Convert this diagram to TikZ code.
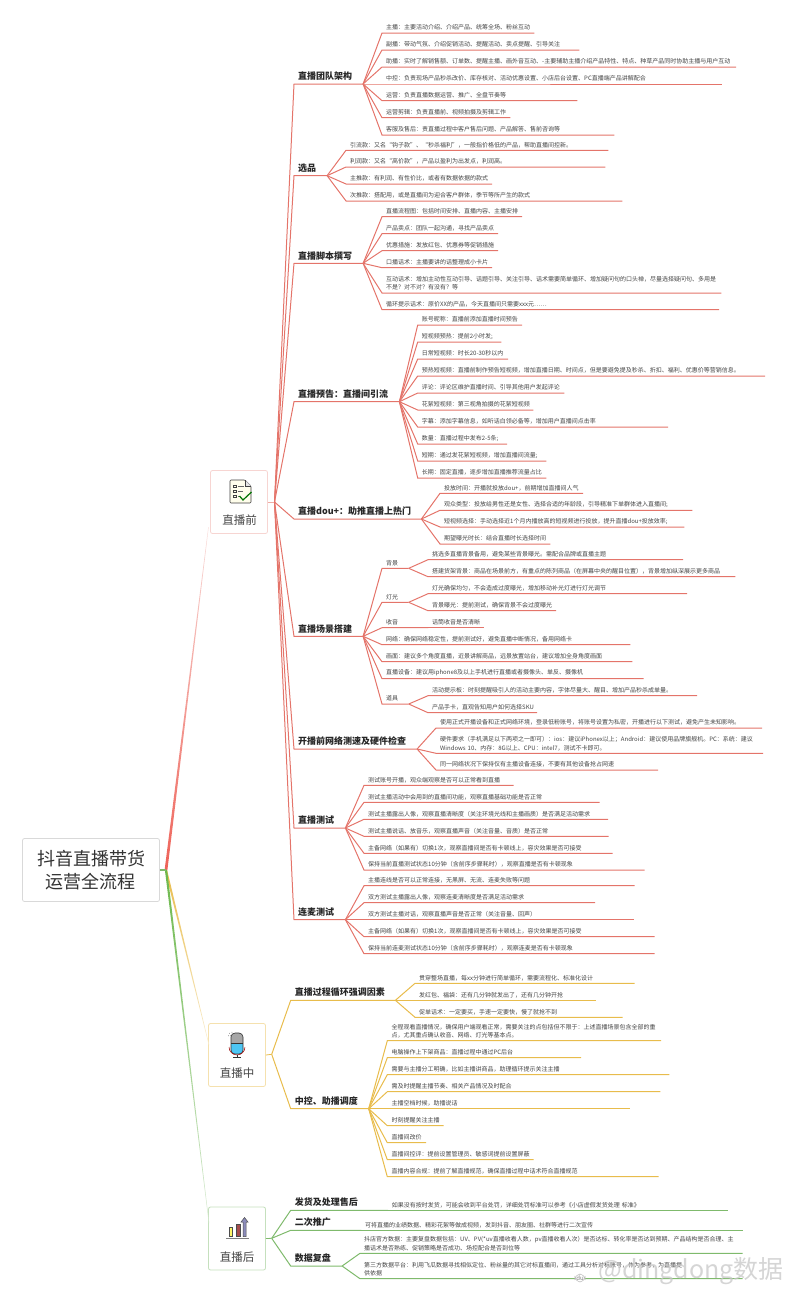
\documentclass[tikz,border=0pt]{standalone}
\usepackage{fontspec}
\setmainfont{Noto Sans CJK SC}
\definecolor{redline}{HTML}{E4746A}
\definecolor{redroot}{HTML}{EE6258}
\definecolor{yelline}{HTML}{E8BC4C}
\definecolor{greline}{HTML}{7FBA6C}
\definecolor{greroot}{HTML}{6CB84C}
\definecolor{ink}{HTML}{444444}
\tikzstyle{leaf}=[anchor=south west, inner xsep=4pt, inner ysep=2.4pt, text width=#1pt-8pt, align=left, text=ink, font=\fontsize{6}{8.3}\selectfont]
\tikzstyle{head}=[anchor=south west, inner xsep=4pt, inner ysep=3.2pt, text width=#1pt-8pt, align=left, text=black!85, font=\fontsize{9}{11}\selectfont\bfseries]
\tikzstyle{stage}=[draw=#1, rounded corners=2pt, line width=.8pt, minimum width=57pt, minimum height=63pt, fill=white]
\tikzstyle{stagelabel}=[text=ink, font=\fontsize{11.5}{13}\selectfont]
\tikzstyle{redpath}=[draw=redline, line width=1pt]
\tikzstyle{yelpath}=[draw=yelline, line width=1pt]
\tikzstyle{grepath}=[draw=greline, line width=1pt]

\begin{document}
\begin{tikzpicture}[x=1pt, y=-1pt]
	\useasboundingbox (0, 0) rectangle (800, 1301);
	\begin{scope}
		\coordinate (r0) at (166, 870);
		\coordinate (e1) at (208.5, 527);
		\coordinate (e2) at (209, 1045);
		\coordinate (e3) at (209, 1223);
		\coordinate (q1) at (274.5, 502);
		\coordinate (q2) at (271.7, 1054.3);
		\coordinate (q3) at (271.7, 1238.3);

		\node (root) at (91, 870)[draw=black!15, rounded corners=2pt, line width=.8pt, minimum width=137pt, minimum height=63pt, align=center, text=black!80, font=\fontsize{18}{23.5}\selectfont] {抖音直播带货\\运营全流程};
		\node (b1) at (239, 502)[stage=redline!30] {};
		\node (b2) at (237, 1055)[stage=yelline!45] {};
		\node (b3) at (237, 1238.5)[stage=greline!45] {};
		\node (l1) at (239.5, 520.5)[stagelabel] {直播前};
		\node (l2) at (237, 1073)[stagelabel] {直播中};
		\node (l3) at (237, 1257)[stagelabel] {直播后};

		\node (h1) at (294, 84)[head=68.7] {直播团队架构};
		\node (a1) at (382, 33)[leaf=152] {主播：主要活动介绍、介绍产品、统筹全场、粉丝互动};
		\node (a2) at (382, 50)[leaf=197] {副播：带动气氛、介绍促销活动、提醒活动、卖点提醒、引导关注};
		\node (a3) at (382, 67)[leaf=353.7] {助播：实时了解销售额、订单数、提醒主播、画外音互动、-主要辅助主播介绍产品特性、特点、种草产品同时协助主播与用户互动};
		\node (a4) at (382, 84)[leaf=340] {中控：负责现场产品秒杀改价、库存核对、活动优惠设置、小店后台设置、PC直播端产品讲解配合};
		\node (a5) at (382, 100.7)[leaf=195] {运营：负责直播数据运营、推广、全盘节奏等};
		\node (a6) at (382, 117.7)[leaf=128] {运营剪辑：负责直播前、视频拍摄及剪辑工作};
		\node (a7) at (382, 135)[leaf=232] {客服及售后：责直播过程中客户售后问题、产品解答、售前咨询等};

		\node (h2) at (294, 175.7)[head=32.7] {选品};
		\node (c1) at (346, 150.3)[leaf=262] {引流款：又名“钩子款”、“秒杀福利”，一般指价格低的产品，帮助直播间控新。};
		\node (c2) at (346, 167)[leaf=259] {利润款：又名“高价款”，产品以盈利为出发点，利润高。};
		\node (c3) at (346, 184)[leaf=145.7] {主推款：有利润、有性价比，或者有数据依据的款式};
		\node (c4) at (346, 201)[leaf=276] {次推款：搭配用，或是直播间为迎合客户群体，季节等所产生的款式};

		\node (h3) at (294, 263.3)[head=68.7] {直播脚本撰写};
		\node (d1) at (382, 216.7)[leaf=139.7] {直播流程图：包括时间安排、直播内容、主播安排};
		\node (d2) at (382, 233.7)[leaf=115.7] {产品卖点：团队一起沟通，寻找产品卖点};
		\node (d3) at (382, 250.7)[leaf=115.7] {优惠措施：发放红包、优惠券等促销措施};
		\node (d4) at (382, 267.7)[leaf=109.7] {口播话术：主播要讲的话整理成小卡片};
		\node (d5) at (382, 293)[leaf=339] {互动话术：增加主动性互动引导、话题引导、关注引导、话术需要简单循环、增加疑问句的口头禅，尽量选择疑问句、多用是\\不是？对不对？有没有？等};
		\node (d6) at (382, 309.7)[leaf=336.7] {循环提示话术：原价XX的产品，今天直播间只需要xxx元……};

		\node (h4) at (294, 401.7)[head=105] {直播预告：直播间引流};
		\node (e01) at (417.7, 325)[leaf=104] {账号昵称：直播前添加直播时间预告};
		\node (e02) at (417.7, 342)[leaf=83.3] {短视频预热：提前2小时发;};
		\node (e03) at (417.7, 359)[leaf=90] {日常短视频：时长20-30秒以内};
		\node (e04) at (417.7, 376)[leaf=347] {预热短视频：直播前制作预告短视频，增加直播日期、时间点，但是要避免提及秒杀、折扣、福利、优惠价等营销信息。};
		\node (e05) at (417.7, 393)[leaf=146.3] {评论：评论区维护直播时间、引导其他用户发起评论};
		\node (e06) at (417.7, 410)[leaf=115.3] {花絮短视频：第三视角拍摄的花絮短视频};
		\node (e07) at (417.7, 427)[leaf=250] {字幕：添加字幕信息，如听话白领必备等，增加用户直播间点击率};
		\node (e08) at (417.7, 444)[leaf=89] {数量：直播过程中发布2-5条;};
		\node (e09) at (417.7, 461)[leaf=128.3] {短期：通过发花絮短视频，增加直播间流量;};
		\node (e10) at (417.7, 478)[leaf=128.3] {长期：固定直播，逐步增加直播推荐流量占比};

		\node (h5) at (294, 519)[head=127] {直播dou+：助推直播上热门};
		\node (f1) at (440, 493.3)[leaf=142.7] {投放时间：开播就投放dou+，前期增加直播间人气};
		\node (f2) at (440, 510.3)[leaf=252] {观众类型：投放给男性还是女性、选择合适的年龄段，引导精准下单群体进入直播间;};
		\node (f3) at (440, 527)[leaf=244] {短视频选择：手动选择近1个月内播放高的短视频进行投放，提升直播dou+投放效率;};
		\node (f4) at (440, 544)[leaf=110] {期望曝光时长：结合直播时长选择时间};

		\node (h6) at (294, 636.3)[head=68.7] {直播场景搭建};
		\node (g1) at (382, 568.3)[leaf=26.3] {背景};
		\node (g2) at (382, 602.3)[leaf=26.3] {灯光};
		\node (g3) at (382, 627.7)[leaf=46] {收音};
		\node (g4) at (382, 644.7)[leaf=248] {网络：确保网络稳定性，提前测试好，避免直播中断情况，备用网络卡};
		\node (g5) at (382, 661.7)[leaf=250] {画面：建议多个角度直播，近景讲解商品，远景放置站台，建议增加全身角度画面};
		\node (g6) at (382, 678.7)[leaf=261.3] {直播设备：建议用iphone8及以上手机进行直播或者摄像头、单反、摄像机};
		\node (g7) at (382, 704)[leaf=26.3] {道具};
		\node (k1) at (428, 559.7)[leaf=254.7] {挑选多直播背景备用，避免某些背景曝光。需配合品牌或直播主题};
		\node (k2) at (428, 576.7)[leaf=307] {搭建货架背景：商品在场景前方，有重点的陈列商品（在屏幕中央的醒目位置），背景增加纵深展示更多商品};
		\node (k3) at (428, 593.7)[leaf=258.7] {灯光确保均匀，不会造成过度曝光，增加移动补光灯进行灯光调节};
		\node (k4) at (428, 610.7)[leaf=127.7] {背景曝光：提前测试，确保背景不会过度曝光};
		\node (k5) at (428, 627.7)[leaf=56] {话筒收音是否清晰};
		\node (k6) at (428, 695.7)[leaf=268.7] {活动提示板：时刻提醒吸引人的活动主要内容，字体尽量大、醒目、增加产品秒杀成单量。};
		\node (k7) at (428, 712.7)[leaf=108.7] {产品手卡，直观告知用户如何选择SKU};

		\node (h7) at (294, 749)[head=122.7] {开播前网络测速及硬件检查};
		\node (m1) at (436, 728)[leaf=325.7] {使用正式开播设备和正式网络环境，登录低粉账号，将账号设置为私密，开播进行以下测试，避免产生未知影响。};
		\node (m2) at (436, 753.3)[leaf=326.7] {硬件要求（手机满足以下两项之一即可）：ios：建议iPhonex以上；Android：建议使用品牌旗舰机。PC：系统：建议\\Windows 10、内存：8G以上、CPU：intel7，测试不卡即可。};
		\node (m3) at (436, 770)[leaf=221.7] {同一网络状况下保持仅有主播设备连接，不要有其他设备抢占网速};

		\node (h8) at (294, 828)[head=51] {直播测试};
		\node (n1) at (364, 785.3)[leaf=149.3] {测试账号开播，观众端观察是否可以正常看到直播};
		\node (n2) at (364, 802.3)[leaf=235.3] {测试主播活动中会用到的直播间功能，观察直播基础功能是否正常};
		\node (n3) at (364, 819.3)[leaf=243.7] {测试主播露出人像，观察直播清晰度（关注环境光线和主播画质）是否满足活动需求};
		\node (n4) at (364, 836.3)[leaf=244.3] {测试主播说话、放音乐，观察直播声音（关注音量、音质）是否正常};
		\node (n5) at (364, 853.3)[leaf=248.3] {主备网络（如果有）切换1次，观察直播间是否有卡顿线上，容灾效果是否可接受};
		\node (n6) at (364, 870)[leaf=280.3] {保持当前直播测试状态10分钟（含前序步骤耗时），观察直播是否有卡顿现象};

		\node (h9) at (294, 919.7)[head=51] {连麦测试};
		\node (o1) at (364, 885.7)[leaf=270.3] {主播连线是否可以正常连接，无黑屏、无流、连麦失败等问题};
		\node (o2) at (364, 902.7)[leaf=230.7] {双方测试主播露出人像，观察连麦清晰度是否满足活动需求};
		\node (o3) at (364, 919.7)[leaf=269.3] {双方测试主播对话，观察直播声音是否正常（关注音量、回声）};
		\node (o4) at (364, 936.7)[leaf=290.3] {主备网络（如果有）切换1次，观察直播间是否有卡顿线上，容灾效果是否可接受};
		\node (o5) at (364, 953.7)[leaf=290.3] {保持当前连麦测试状态10分钟（含前序步骤耗时），观察连麦是否有卡顿现象};

		\node (h10) at (290.7, 1000.3)[head=104.3] {直播过程循环强调因素};
		\node (p1) at (415, 983.3)[leaf=219.3] {贯穿整场直播，每xx分钟进行简单循环，需要流程化、标准化设计};
		\node (p2) at (415, 1000.3)[leaf=180.7] {发红包、福袋：还有几分钟就发出了，还有几分钟开抢};
		\node (p3) at (415, 1017.3)[leaf=207.3] {促单话术：一定要买，手速一定要快，慢了就抢不到};

		\node (h11) at (290.7, 1108.7)[head=77.6] {中控、助播调度};
		\node (s1) at (387.3, 1040.7)[leaf=273.4] {全程观看直播情况，确保用户端观看正常，需要关注的点包括但不限于：上述直播场景包含全部的重\\点，尤其重点确认收音、网络、灯光等基本点。};
		\node (s2) at (387.3, 1057.7)[leaf=193.4] {电脑操作上下架商品：直播过程中通过PC后台};
		\node (s3) at (387.3, 1074.7)[leaf=281.7] {需要与主播分工明确，比如主播讲商品，助理循环提示关注主播};
		\node (s4) at (387.3, 1091.7)[leaf=272.7] {需及时提醒主播节奏、相关产品情况及时配合};
		\node (s5) at (387.3, 1108.7)[leaf=242.7] {主播空档时候，助播说话};
		\node (s6) at (387.3, 1125.7)[leaf=56] {时刻提醒关注主播};
		\node (s7) at (387.3, 1142.7)[leaf=38.4] {直播间改价};
		\node (s8) at (387.3, 1159.7)[leaf=146] {直播间控评：提前设置管理员、敏感词提前设置屏蔽};
		\node (s9) at (387.3, 1176.7)[leaf=271] {直播内容合规：提前了解直播规范，确保直播过程中话术符合直播规范};

		\node (h12) at (290.7, 1210.3)[head=97] {发货及处理售后};
		\node (u1) at (387.7, 1210.3)[leaf=340.3] {如果没有按时发货，可能会收到平台处罚，详细处罚标准可以参考《小店虚假发货处理 标准》};
		\node (h13) at (290.7, 1230.3)[head=70.3] {二次推广};
		\node (u2) at (361, 1230.3)[leaf=381.3] {可将直播的业绩数据、精彩花絮等做成视频，发到抖音、朋友圈、社群等进行二次宣传};
		\node (h14) at (290.7, 1266)[head=51] {数据复盘};
		\node (u3) at (360, 1253.3)[leaf=382.3] {抖店官方数据：主要复盘数据包括：UV、PV(*uv直播收看人数，pv直播收看人次）是否达标、转化率是否达到预期、产品结构是否合理、主\\播话术是否熟练、促销策略是否成功、场控配合是否到位等};
		\node (u4) at (360, 1278.7)[leaf=382.3] {第三方数据平台：利用飞瓜数据寻找相似定位、粉丝量的其它对标直播间，通过工具分析对标账号，作为参考，为直播提\\供依据};
	\end{scope}
	\begin{scope}
		\shade [bottom color=redroot, middle color=redroot!85, top color=redline!25] ([xshift=-1.4pt]r0) -- ([xshift=1.4pt]r0) -- ([xshift=.2pt]e1) -- ([xshift=-.2pt]e1) -- cycle;
		\shade [top color=yelline, middle color=yelline!80, bottom color=yelline!25] ([xshift=-1.1pt]r0) -- ([xshift=1.1pt]r0) -- ([xshift=.2pt]e2) -- ([xshift=-.2pt]e2) -- cycle;
		\shade [top color=greroot, middle color=greline, bottom color=greline!30] ([xshift=-1.1pt]r0) -- ([xshift=1.1pt]r0) -- ([xshift=.2pt]e3) -- ([xshift=-.2pt]e3) -- cycle;
		\draw [greline, line width=1.3pt] (root.east) -- (r0);

		\draw [redline!60, line width=.8pt] (b1.east) -- (q1);
		\draw [yelline, line width=.8pt] (b2.east) -- (q2);
		\draw [greline, line width=.8pt] (b3.east) -- (q3);

		\draw [redpath] (q1) -- (h1.south west) -- (h1.south east);
		\draw [redpath] (q1) -- (h2.south west) -- (h2.south east);
		\draw [redpath] (q1) -- (h3.south west) -- (h3.south east);
		\draw [redpath] (q1) -- (h4.south west) -- (h4.south east);
		\draw [redpath] (q1) -- (h5.south west) -- (h5.south east);
		\draw [redpath] (q1) -- (h6.south west) -- (h6.south east);
		\draw [redpath] (q1) -- (h7.south west) -- (h7.south east);
		\draw [redpath] (q1) -- (h8.south west) -- (h8.south east);
		\draw [redpath] (q1) -- (h9.south west) -- (h9.south east);
		\draw [yelpath] (q2) -- (h10.south west) -- (h10.south east);
		\draw [yelpath] (q2) -- (h11.south west) -- (h11.south east);
		\draw [grepath] (q3) -- (h12.south west) -- (h12.south east);
		\draw [grepath] (q3) -- (h13.south west) -- (h13.south east);
		\draw [grepath] (q3) -- (h14.south west) -- (h14.south east);

		\draw [redpath] (h1.south east) -- (a1.south west) -- (a1.south east);
		\draw [redpath] (h1.south east) -- (a2.south west) -- (a2.south east);
		\draw [redpath] (h1.south east) -- (a3.south west) -- (a3.south east);
		\draw [redpath] (h1.south east) -- (a4.south west) -- (a4.south east);
		\draw [redpath] (h1.south east) -- (a5.south west) -- (a5.south east);
		\draw [redpath] (h1.south east) -- (a6.south west) -- (a6.south east);
		\draw [redpath] (h1.south east) -- (a7.south west) -- (a7.south east);

		\draw [redpath] (h2.south east) -- (c1.south west) -- (c1.south east);
		\draw [redpath] (h2.south east) -- (c2.south west) -- (c2.south east);
		\draw [redpath] (h2.south east) -- (c3.south west) -- (c3.south east);
		\draw [redpath] (h2.south east) -- (c4.south west) -- (c4.south east);

		\draw [redpath] (h3.south east) -- (d1.south west) -- (d1.south east);
		\draw [redpath] (h3.south east) -- (d2.south west) -- (d2.south east);
		\draw [redpath] (h3.south east) -- (d3.south west) -- (d3.south east);
		\draw [redpath] (h3.south east) -- (d4.south west) -- (d4.south east);
		\draw [redpath] (h3.south east) -- (d5.south west) -- (d5.south east);
		\draw [redpath] (h3.south east) -- (d6.south west) -- (d6.south east);

		\draw [redpath] (h4.south east) -- (e01.south west) -- (e01.south east);
		\draw [redpath] (h4.south east) -- (e02.south west) -- (e02.south east);
		\draw [redpath] (h4.south east) -- (e03.south west) -- (e03.south east);
		\draw [redpath] (h4.south east) -- (e04.south west) -- (e04.south east);
		\draw [redpath] (h4.south east) -- (e05.south west) -- (e05.south east);
		\draw [redpath] (h4.south east) -- (e06.south west) -- (e06.south east);
		\draw [redpath] (h4.south east) -- (e07.south west) -- (e07.south east);
		\draw [redpath] (h4.south east) -- (e08.south west) -- (e08.south east);
		\draw [redpath] (h4.south east) -- (e09.south west) -- (e09.south east);
		\draw [redpath] (h4.south east) -- (e10.south west) -- (e10.south east);

		\draw [redpath] (h5.south east) -- (f1.south west) -- (f1.south east);
		\draw [redpath] (h5.south east) -- (f2.south west) -- (f2.south east);
		\draw [redpath] (h5.south east) -- (f3.south west) -- (f3.south east);
		\draw [redpath] (h5.south east) -- (f4.south west) -- (f4.south east);

		\draw [redpath] (h6.south east) -- (g1.south west) -- (g1.south east);
		\draw [redpath] (h6.south east) -- (g2.south west) -- (g2.south east);
		\draw [redpath] (h6.south east) -- (g3.south west) -- (g3.south east);
		\draw [redpath] (h6.south east) -- (g4.south west) -- (g4.south east);
		\draw [redpath] (h6.south east) -- (g5.south west) -- (g5.south east);
		\draw [redpath] (h6.south east) -- (g6.south west) -- (g6.south east);
		\draw [redpath] (h6.south east) -- (g7.south west) -- (g7.south east);
		\draw [redpath] (g1.south east) -- (k1.south west) -- (k1.south east);
		\draw [redpath] (g1.south east) -- (k2.south west) -- (k2.south east);
		\draw [redpath] (g2.south east) -- (k3.south west) -- (k3.south east);
		\draw [redpath] (g2.south east) -- (k4.south west) -- (k4.south east);
		\draw [redpath] (g3.south east) -- (k5.south west) -- (k5.south east);
		\draw [redpath] (g7.south east) -- (k6.south west) -- (k6.south east);
		\draw [redpath] (g7.south east) -- (k7.south west) -- (k7.south east);

		\draw [redpath] (h7.south east) -- (m1.south west) -- (m1.south east);
		\draw [redpath] (h7.south east) -- (m2.south west) -- (m2.south east);
		\draw [redpath] (h7.south east) -- (m3.south west) -- (m3.south east);

		\draw [redpath] (h8.south east) -- (n1.south west) -- (n1.south east);
		\draw [redpath] (h8.south east) -- (n2.south west) -- (n2.south east);
		\draw [redpath] (h8.south east) -- (n3.south west) -- (n3.south east);
		\draw [redpath] (h8.south east) -- (n4.south west) -- (n4.south east);
		\draw [redpath] (h8.south east) -- (n5.south west) -- (n5.south east);
		\draw [redpath] (h8.south east) -- (n6.south west) -- (n6.south east);

		\draw [redpath] (h9.south east) -- (o1.south west) -- (o1.south east);
		\draw [redpath] (h9.south east) -- (o2.south west) -- (o2.south east);
		\draw [redpath] (h9.south east) -- (o3.south west) -- (o3.south east);
		\draw [redpath] (h9.south east) -- (o4.south west) -- (o4.south east);
		\draw [redpath] (h9.south east) -- (o5.south west) -- (o5.south east);

		\draw [yelpath] (h10.south east) -- (p1.south west) -- (p1.south east);
		\draw [yelpath] (h10.south east) -- (p2.south west) -- (p2.south east);
		\draw [yelpath] (h10.south east) -- (p3.south west) -- (p3.south east);

		\draw [yelpath] (h11.south east) -- (s1.south west) -- (s1.south east);
		\draw [yelpath] (h11.south east) -- (s2.south west) -- (s2.south east);
		\draw [yelpath] (h11.south east) -- (s3.south west) -- (s3.south east);
		\draw [yelpath] (h11.south east) -- (s4.south west) -- (s4.south east);
		\draw [yelpath] (h11.south east) -- (s5.south west) -- (s5.south east);
		\draw [yelpath] (h11.south east) -- (s6.south west) -- (s6.south east);
		\draw [yelpath] (h11.south east) -- (s7.south west) -- (s7.south east);
		\draw [yelpath] (h11.south east) -- (s8.south west) -- (s8.south east);
		\draw [yelpath] (h11.south east) -- (s9.south west) -- (s9.south east);

		\draw [grepath] (h12.south east) -- (u1.south west) -- (u1.south east);
		\draw [grepath] (h13.south east) -- (u2.south west) -- (u2.south east);
		\draw [grepath] (h14.south east) -- (u3.south west) -- (u3.south east);
		\draw [grepath] (h14.south east) -- (u4.south west) -- (u4.south east);
	\end{scope}
	\begin{scope}
		\draw [black!75, fill=yellow!8, line width=.6pt, rounded corners=1pt] (230, 480) -- (245, 480) -- (251, 486) -- (251, 503) -- (230, 503) -- cycle;
		\draw [black!75, fill=black!10, line width=.5pt] (245, 480) -- (245, 486) -- (251, 486);
		\draw [black!75, line width=.5pt] (233.5, 485) rectangle (236, 487.5) (233.5, 490) rectangle (236, 492.5) (233.5, 495) rectangle (236, 497.5);
		\draw [black!60, line width=.5pt] (238, 486) -- (244, 486) (238, 491) -- (243, 491) (238, 496) -- (240, 496);
		\draw [green!45!black, line width=1.2pt] (239.5, 496) -- (243, 500) -- (251.5, 492);

		\fill [black!35, rounded corners=4pt] (231, 1033) rectangle (243, 1054);
		\fill [cyan!70, rounded corners=4pt] (231, 1044) -- (243, 1044) -- (243, 1054) -- (231, 1054) -- cycle;
		\fill [cyan!70] (231, 1043) rectangle (243, 1048);
		\draw [black!80, line width=.6pt, rounded corners=4pt] (231, 1033) rectangle (243, 1054);
		\draw [black!80, line width=.6pt] (231, 1043) -- (243, 1043);
		\draw [red!60!black, line width=.5pt] (229, 1047) arc (180:0:8);
		\draw [black!80, line width=.7pt] (237, 1055) -- (237, 1057) (233, 1057) -- (241, 1057);
		\draw [black!60, line width=.6pt, dotted] (228.5, 1036) arc (180:270:4) (230.5, 1036) arc (180:270:2);

		\draw [black!70, fill=yellow!60, line width=.5pt] (229, 1227) rectangle (232.5, 1236.5);
		\draw [black!70, fill=red!50!black!70, line width=.5pt] (236, 1224) rectangle (240, 1236.5);
		\draw [black!70, fill=blue!40!black!45, line width=.5pt] (243, 1222) -- (241, 1222) -- (244.5, 1217.5) -- (248, 1222) -- (246, 1222) -- (246, 1236.5) -- (243, 1236.5) -- cycle;
		\draw [black!50, line width=.9pt] (226, 1238.5) -- (249, 1238.5);
	\end{scope}
	\begin{scope}
		\node (w1) at (580, 1278)[draw=black!30, fill=white, rounded corners=6pt, inner sep=1.5pt, text=black!50, font=\fontsize{6}{6}\selectfont] {du};
		\node (w2) at (691, 1271)[text=black!22, opacity=.75, font=\fontsize{25}{25}\selectfont] {@dingdong数据};
	\end{scope}
\end{tikzpicture}
\end{document}
